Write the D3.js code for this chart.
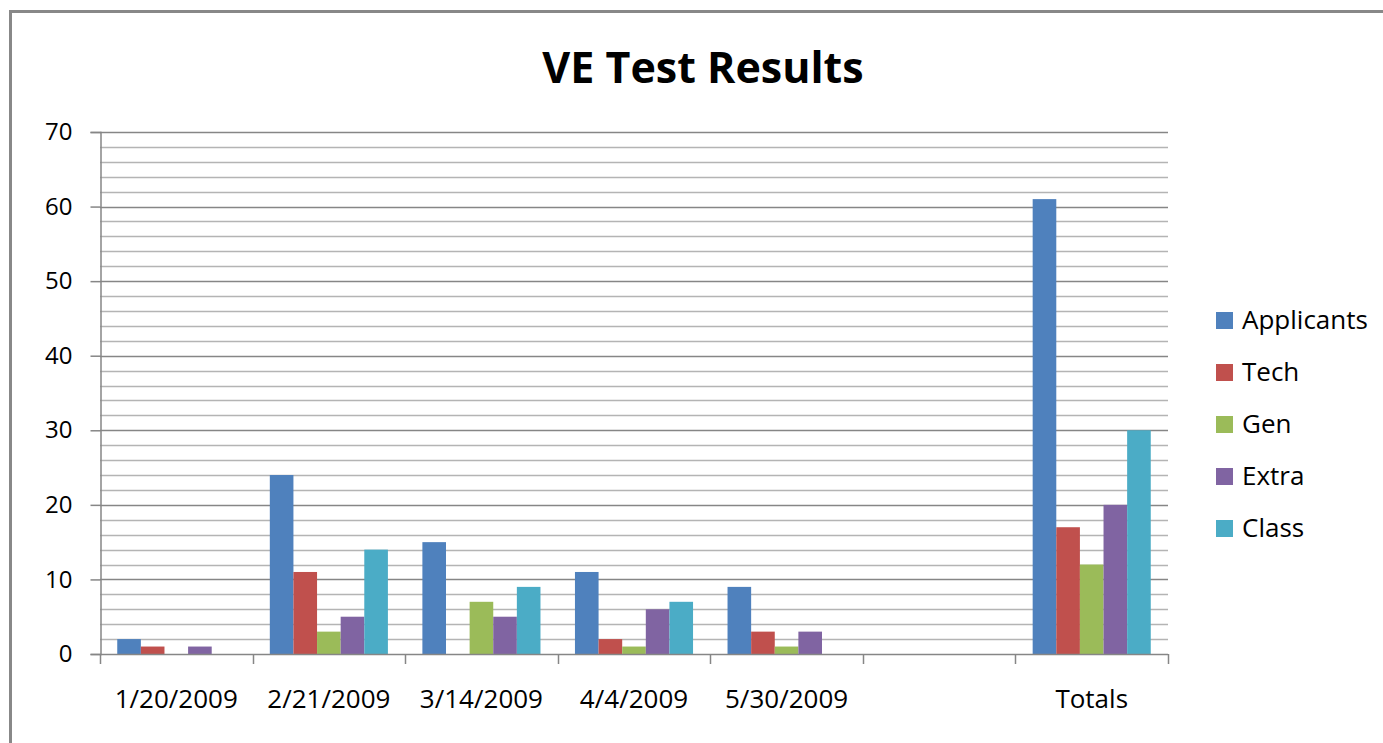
<!DOCTYPE html>
<html>
<head>
<meta charset="utf-8">
<script src="https://cdn.jsdelivr.net/npm/d3@7"></script>
<style>
body{margin:0;background:#fff;}
text{font-family:"Open Sans",sans-serif;fill:#000;}
</style>
</head>
<body>
<script>
var w=1383;
var h=743;

var categories=["1/20/2009","2/21/2009","3/14/2009","4/4/2009","5/30/2009","","Totals"];
var series=["Applicants","Tech","Gen","Extra","Class"];
var colors=["#4F81BD","#C0504D","#9BBB59","#8064A2","#4BACC6"];

var applicants=[2,24,15,11,9,0,61];
var tech=[1,11,0,2,3,0,17];
var gen=[0,3,7,1,1,0,12];
var extra=[1,5,5,6,3,0,20];
var classes=[0,14,9,7,0,0,30];
var values=[applicants,tech,gen,extra,classes];

var yTicks=[0,10,20,30,40,50,60,70];

var plotLeft=100, plotRight=1168, plotTop=132, plotBottom=654;

var svg=d3.select("body")
    .append("svg")
    .attr("width",w)
    .attr("height",h);

// chart frame
svg.append("rect")
    .attr("x",10.5)
    .attr("y",11.5)
    .attr("width",1500)
    .attr("height",900)
    .attr("fill","none")
    .attr("stroke","#888")
    .attr("stroke-width",3);

var x0=d3.scaleBand()
    .domain(d3.range(categories.length))
    .range([plotLeft,plotRight])
    .paddingInner(0)
    .paddingOuter(0);

var x1=d3.scaleBand()
    .domain(d3.range(series.length))
    .range([0,x0.bandwidth()])
    .paddingInner(0)
    .paddingOuter(0.73);

var yScale=d3.scaleLinear()
    .domain([0,70])
    .range([plotBottom,plotTop]);

// minor gridlines
svg.append("g")
    .selectAll("line")
    .data(d3.range(2,70,2).filter(function(d){return d%10!=0;}))
    .enter()
    .append("line")
    .attr("x1",plotLeft)
    .attr("x2",plotRight)
    .attr("y1",function(d){return Math.round(yScale(d))+0.5;})
    .attr("y2",function(d){return Math.round(yScale(d))+0.5;})
    .attr("stroke","#b4b4b4")
    .attr("stroke-width",1.5);

// major gridlines
svg.append("g")
    .selectAll("line")
    .data(yTicks.slice(1))
    .enter()
    .append("line")
    .attr("x1",plotLeft)
    .attr("x2",plotRight)
    .attr("y1",function(d){return Math.round(yScale(d))+0.5;})
    .attr("y2",function(d){return Math.round(yScale(d))+0.5;})
    .attr("stroke","#868686")
    .attr("stroke-width",1.5);

// bars
var groups=svg.append("g")
    .selectAll("g")
    .data(values)
    .enter()
    .append("g")
    .attr("fill",function(d,i){return colors[i];});

groups.selectAll("rect")
    .data(function(d,i){
        return d.map(function(v,j){return {v:v,c:j,s:i};});
    })
    .enter()
    .append("rect")
    .attr("x",function(d){return x0(d.c)+x1(d.s);})
    .attr("y",function(d){return yScale(d.v);})
    .attr("width",x1.bandwidth())
    .attr("height",function(d){return plotBottom-yScale(d.v);});

// y axis
var yAxis=svg.append("g")
    .attr("transform","translate("+(plotLeft+0.5)+",0)")
    .call(d3.axisLeft(yScale).tickValues(yTicks).tickSize(10).tickPadding(18));
yAxis.select(".domain").attr("stroke","#868686").attr("stroke-width",1.5);
yAxis.selectAll(".tick line").attr("stroke","#868686").attr("stroke-width",1.5);
yAxis.selectAll("text")
    .attr("font-size",24)
    .attr("font-family","Open Sans")
    .attr("fill","#000");

// x axis
var xTickPos=d3.range(categories.length+1).map(function(i){
    return i<categories.length ? x0(i) : x0(categories.length-1)+x0.bandwidth();
});
var xAxisG=svg.append("g");
xAxisG.append("line")
    .attr("x1",plotLeft)
    .attr("x2",plotRight)
    .attr("y1",plotBottom+0.5)
    .attr("y2",plotBottom+0.5)
    .attr("stroke","#868686")
    .attr("stroke-width",1.5);
xAxisG.selectAll(".xtick")
    .data(xTickPos)
    .enter()
    .append("line")
    .attr("class","xtick")
    .attr("x1",function(d){return Math.round(d)+0.5;})
    .attr("x2",function(d){return Math.round(d)+0.5;})
    .attr("y1",plotBottom)
    .attr("y2",plotBottom+10)
    .attr("stroke","#868686")
    .attr("stroke-width",1.5);
xAxisG.selectAll("text")
    .data(categories)
    .enter()
    .append("text")
    .attr("x",function(d,i){return x0(i)+x0.bandwidth()/2;})
    .attr("y",708)
    .attr("text-anchor","middle")
    .attr("font-size",26)
    .text(function(d){return d;});

// title
svg.append("text")
    .attr("x",703)
    .attr("y",83)
    .attr("text-anchor","middle")
    .attr("font-size",43)
    .attr("font-weight","bold")
    .text("VE Test Results");

// legend
var legend=svg.append("g")
    .selectAll("g")
    .data(series)
    .enter()
    .append("g")
    .attr("transform",function(d,i){return "translate(1216,"+(312+i*52)+")";});
legend.append("rect")
    .attr("width",17)
    .attr("height",17)
    .attr("fill",function(d,i){return colors[i];});
legend.append("text")
    .attr("x",26)
    .attr("y",17)
    .attr("font-size",26)
    .text(function(d){return d;});
</script>
</body>
</html>
